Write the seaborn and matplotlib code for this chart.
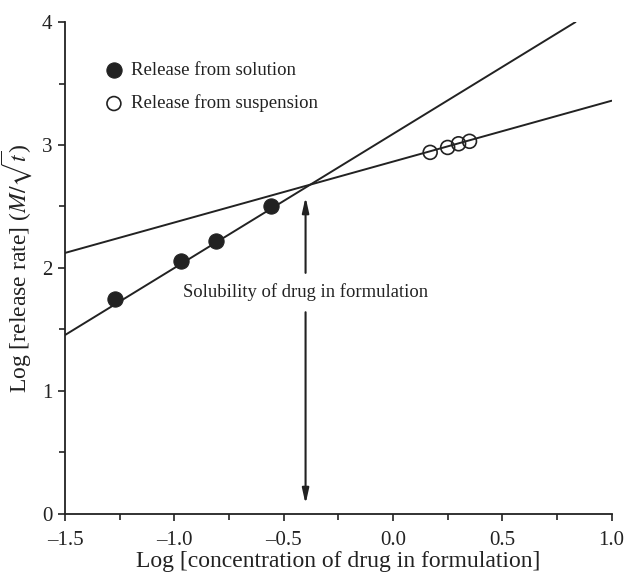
import numpy as np
import pandas as pd
import seaborn as sns
import matplotlib.pyplot as plt
from matplotlib.ticker import MultipleLocator
plt.switch_backend('agg')

# values
solution_x = [-1.27, -0.97, -0.81, -0.56]
solution_y = [1.75, 2.06, 2.22, 2.50]
suspension_x = [0.17, 0.25, 0.30, 0.35]
suspension_y = [2.94, 2.98, 3.01, 3.03]
line_slopes = [1.09, 0.495]
line_intercepts = [3.09, 2.865]
solubility_x = -0.4
x_ticks = [-1.5, -1.0, -0.5, 0.0, 0.5, 1.0]
y_ticks = [0, 1, 2, 3, 4]

sns.set_style('ticks')
plt.rcParams['font.family'] = ['Liberation Serif', 'DejaVu Serif']
plt.rcParams['mathtext.fontset'] = 'stix'

ink = '#222222'
df_sol = pd.DataFrame({'x': solution_x, 'y': solution_y})
df_sus = pd.DataFrame({'x': suspension_x, 'y': suspension_y})

fig = plt.figure(figsize=(6.26, 5.8), dpi=100)
ax = fig.add_axes([0.104, 0.114, 0.873, 0.848])

for m, b in zip(line_slopes, line_intercepts):
    ax.axline((0, b), slope=m, color=ink, lw=1.4, zorder=2)

sns.scatterplot(data=df_sol, x='x', y='y', ax=ax, s=120, color=ink,
                edgecolor=ink, linewidth=0.8, label='Release from solution', zorder=3)
sns.scatterplot(data=df_sus, x='x', y='y', ax=ax, s=100, facecolor='none',
                edgecolor=ink, linewidth=1.2, label='Release from suspension', zorder=3)

# solubility arrows
y_cross = line_intercepts[1] + line_slopes[1] * solubility_x
arrow_style = dict(arrowstyle='-|>,head_length=0.9,head_width=0.2',
                   color=ink, lw=1.5, shrinkA=0, shrinkB=0)
ax.annotate('', xy=(solubility_x, y_cross - 0.09), xytext=(solubility_x, 1.96),
            arrowprops=arrow_style)
ax.annotate('', xy=(solubility_x, 0.08), xytext=(solubility_x, 1.64),
            arrowprops=arrow_style)
ax.text(solubility_x, 1.80, 'Solubility of drug in formulation', ha='center',
        va='center', fontsize=13.4, color=ink)

ax.set_xlim(-1.5, 1.0)
ax.set_ylim(0, 4)
ax.set_xticks(x_ticks)
ax.set_xticklabels(['%.1f' % v if v >= 0 else '\u2013%.1f' % -v for v in x_ticks])
ax.set_yticks(y_ticks)
ax.xaxis.set_minor_locator(MultipleLocator(0.25))
ax.yaxis.set_minor_locator(MultipleLocator(0.5))
ax.tick_params(which='major', length=5, width=1.2, color=ink, labelsize=15,
               labelcolor=ink)
ax.tick_params(axis='x', which='major', pad=7)
ax.tick_params(axis='y', which='major', pad=4)
ax.tick_params(which='minor', length=4, width=1.2, color=ink)
for side in ['left', 'bottom']:
    ax.spines[side].set_linewidth(1.3)
    ax.spines[side].set_color(ink)
sns.despine(ax=ax)

ax.set_xlabel('Log [concentration of drug in formulation]', fontsize=17,
              color=ink, labelpad=1)
ax.set_ylabel(r'Log [release rate] ($M/\sqrt{t}$)', fontsize=17,
              color=ink, labelpad=6)

leg = ax.legend(loc='upper left', bbox_to_anchor=(0.055, 0.935), frameon=False,
                fontsize=13.5, labelspacing=0.85, handletextpad=0.3,
                borderaxespad=0, handlelength=1.2)
for t in leg.get_texts():
    t.set_color(ink)

plt.savefig('out.png', dpi=100)
plt.close()
